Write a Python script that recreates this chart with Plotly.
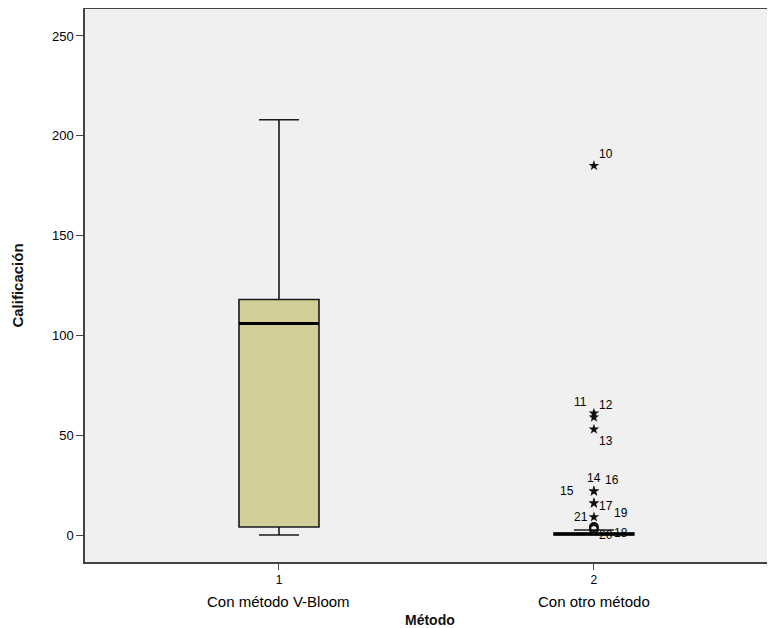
import plotly.graph_objects as go

# ---- data ----
groups = [1, 2]
group_names = ["Con método V-Bloom", "Con otro método"]
q1 = [4, 0]
median = [106, 0.5]
q3 = [118, 1]
lower_fence = [0, 0]
upper_fence = [208, 2.5]

# outliers of group 2 (case number, value, kind)
out_cases = ["10", "11", "12", "13", "14", "15", "16", "17", "21", "19", "18", "20"]
out_values = [185, 61, 59, 53, 22, 22, 16, 16, 9, 4, 3, 3]
out_kind = ["extreme"] * 9 + ["mild"] * 3

y_ticks = [0, 50, 100, 150, 200, 250]

# label pixel offsets (layout only)
label_dx = [12, -13, 12, 12, 0, -27, 18, 12, -13, 27, 27, 12]
label_dy = [-12, -11, -12, 12, -13, 0, -23, 3, 0, -14, 4, 6]

BOX_W = 0.254
FONT = "Liberation Sans, Arial, sans-serif"

fig = go.Figure()

fig.add_trace(go.Box(
    x=groups, q1=q1, median=median, q3=q3,
    lowerfence=lower_fence, upperfence=upper_fence,
    width=BOX_W, whiskerwidth=0.5,
    fillcolor="#D2CE98", line=dict(color="#1a1a1a", width=1.6),
    boxpoints=False, hoverinfo="skip", showlegend=False,
))

# thick median lines
mx, my = [], []
for g, m in zip(groups, median):
    mx += [g - BOX_W / 2, g + BOX_W / 2, None]
    my += [m, m, None]
fig.add_trace(go.Scatter(x=mx, y=my, mode="lines",
                         line=dict(color="black", width=3),
                         showlegend=False, hoverinfo="skip"))

ext_y = [v for v, k in zip(out_values, out_kind) if k == "extreme"]
mild_y = [v for v, k in zip(out_values, out_kind) if k == "mild"]
fig.add_trace(go.Scatter(x=[2] * len(ext_y), y=ext_y, mode="markers",
                         marker=dict(symbol="star", size=8, color="#111111"),
                         showlegend=False))
fig.add_trace(go.Scatter(x=[2] * len(mild_y), y=mild_y, mode="markers",
                         marker=dict(symbol="circle-open", size=8,
                                     color="#111111", line=dict(width=2)),
                         showlegend=False))

for c, v, dx, dy in zip(out_cases, out_values, label_dx, label_dy):
    fig.add_annotation(x=2, y=v, xref="x", yref="y", text=c, showarrow=False,
                       xshift=dx, yshift=-dy,
                       font=dict(family=FONT, size=12, color="#000000"))

# category names below tick numbers
for g, n in zip(groups, group_names):
    fig.add_annotation(x=g, y=0, xref="x", yref="paper", text=n,
                       showarrow=False, yanchor="top", yshift=-29,
                       font=dict(family=FONT, size=15, color="#000000"))

# x axis title
fig.add_annotation(x=0.5, y=0, xref="paper", yref="paper", text="<b>Método</b>",
                   showarrow=False, yanchor="top", yshift=-48,
                   font=dict(family=FONT, size=14, color="#111111"))

fig.update_layout(
    width=767, height=620,
    margin=dict(l=77, r=0, t=1, b=66, autoexpand=False),
    paper_bgcolor="white", plot_bgcolor="#F0F0F0",
    font=dict(family=FONT, size=12, color="#000000"),
    xaxis=dict(range=[0.384, 2.575], tickmode="array", tickvals=groups,
               ticktext=[str(g) for g in groups], ticks="outside", ticklen=6,
               tickcolor="#444444", showgrid=False, zeroline=False,
               showline=True, linecolor="#444444", linewidth=1.5, mirror=True,
               automargin=False, tickfont=dict(size=12)),
    yaxis=dict(range=[-13.5, 263.5], tickvals=y_ticks, ticks="outside",
               ticklen=7, tickcolor="#444444", showgrid=False, zeroline=False,
               showline=True, linecolor="#444444", linewidth=1.5, mirror=True,
               automargin=False, tickfont=dict(size=13),
               title=dict(text="<b>Calificación</b>", standoff=25,
                          font=dict(size=15, color="#111111"))),
)

fig.write_html("out.html")
